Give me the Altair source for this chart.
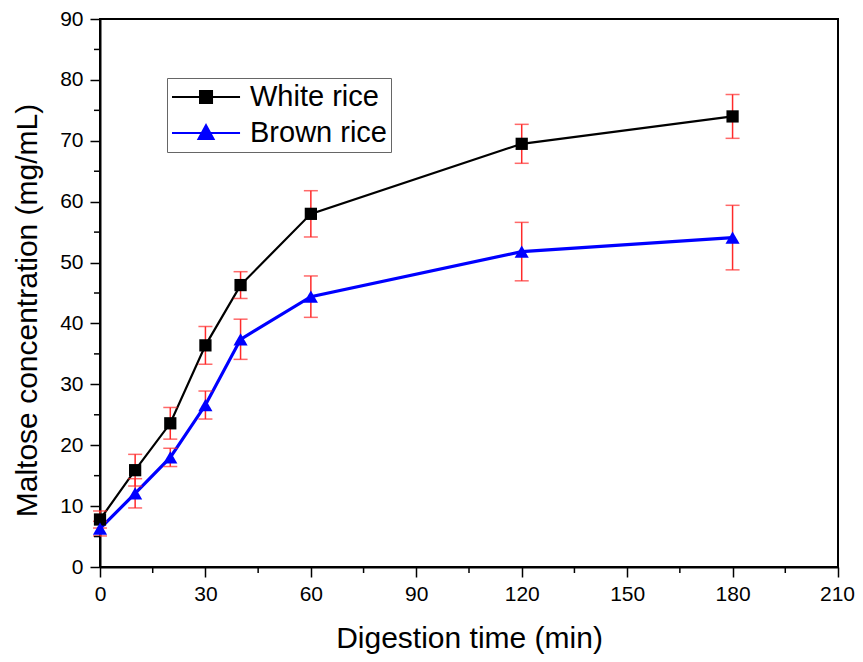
import altair as alt
import pandas as pd

times = [0, 10, 20, 30, 40, 60, 120, 180]
white = [7.8, 15.9, 23.6, 36.4, 46.3, 58.0, 69.5, 74.0]
white_err = [1.4, 2.6, 2.6, 3.1, 2.2, 3.8, 3.2, 3.6]
brown = [6.3, 12.1, 18.0, 26.6, 37.4, 44.4, 51.8, 54.1]
brown_err = [1.2, 2.4, 1.5, 2.3, 3.3, 3.4, 4.8, 5.3]
series = ["White rice", "Brown rice"]
series_colors = ["#000000", "#0000ff"]
x_major = [0, 30, 60, 90, 120, 150, 180, 210]
x_minor = [15, 45, 75, 105, 135, 165, 195]
y_major = [0, 10, 20, 30, 40, 50, 60, 70, 80, 90]
y_minor = [5, 15, 25, 35, 45, 55, 65, 75, 85]

rows = []
for t, v, e in zip(times, white, white_err):
    rows.append({"t": t, "v": v, "lo": v - e, "hi": v + e, "s": series[0], "s2": series[0]})
for t, v, e in zip(times, brown, brown_err):
    rows.append({"t": t, "v": v, "lo": v - e, "hi": v + e, "s": series[1], "s2": series[1]})
df = pd.DataFrame(rows)

W, H = 738, 548
FONT = "Liberation Sans"

xs = alt.Scale(domain=[0, 210], nice=False, zero=False)
ys = alt.Scale(domain=[0, 90], nice=False, zero=False)
cs = alt.Scale(domain=series, range=series_colors)

# legend glyphs: a line with the marker in its middle (unit box = 28px)
white_path = "M-1,0H3.86M1.0,-0.43H1.86V0.43H1.0Z"
brown_path = "M-1,0H3.86M1.43,-0.56L1.97,0.42H0.89Z"

color_expr = "datum.value === '%s' ? '%s' : '%s'" % (series[0], series_colors[0], series_colors[1])

base = alt.Chart(df)

lines = base.mark_line().encode(
    x=alt.X("t:Q", scale=xs, axis=alt.Axis(
        values=x_major, title="Digestion time (min)", tickSize=10, grid=False,
        labelPadding=6, titlePadding=19,
        labelOffset={"condition": {"test": "datum.value === 210", "value": -1}, "value": 0})),
    y=alt.Y("v:Q", scale=ys, axis=alt.Axis(
        values=y_major, title="Maltose concentration (mg/mL)", tickSize=10,
        grid=False, labelPadding=7, titlePadding=17, titleY=291)),
    color=alt.Color("s:N", scale=cs, legend=None),
    strokeWidth=alt.StrokeWidth("s:N", scale=alt.Scale(domain=series, range=[2.2, 3.2]), legend=None),
    detail="s:N",
)

err = base.mark_rule(color="#ff2a2a", strokeWidth=1.5).encode(
    x="t:Q", y="lo:Q", y2="hi:Q")
cap_hi = base.mark_tick(orient="horizontal", color="#ff2a2a", size=14, thickness=1.5).encode(
    x="t:Q", y="hi:Q")
cap_lo = base.mark_tick(orient="horizontal", color="#ff2a2a", size=14, thickness=1.5).encode(
    x="t:Q", y="lo:Q")

points = base.mark_point(filled=True, opacity=1).encode(
    x="t:Q", y="v:Q",
    color=alt.Color("s:N", scale=cs, legend=None),
    shape=alt.Shape("s2:N", scale=alt.Scale(domain=series, range=["square", "triangle-up"]),
                    legend=None),
    size=alt.Size("s2:N", scale=alt.Scale(domain=series, range=[150, 200]), legend=None),
)

leg = alt.Legend(
    title=None, orient="none", legendX=67, legendY=59,
    labelFont=FONT, labelFontSize=29, labelColor="#000",
    symbolSize=784, labelOffset=49, rowPadding=6,
    padding=4, strokeColor="#666", fillColor="white",
    symbolStrokeWidth=2, symbolOpacity=1,
    symbolFillColor={"expr": color_expr}, symbolStrokeColor={"expr": color_expr})

legend_layer = base.transform_filter("datum.t < 0").mark_point(
    filled=True, opacity=1, strokeWidth=2
).encode(
    x="t:Q", y="v:Q",
    color=alt.Color("s:N", scale=cs, legend=leg),
    stroke=alt.Stroke("s:N", scale=cs, legend=leg),
    shape=alt.Shape("s:N", scale=alt.Scale(domain=series, range=[white_path, brown_path]), legend=leg),
)

xminor_df = pd.DataFrame({"m": x_minor})
yminor_df = pd.DataFrame({"m": y_minor})
xminor = alt.Chart(xminor_df).mark_rule(color="#000", strokeWidth=1.5).encode(
    x=alt.X("m:Q", scale=xs), y=alt.value(H), y2=alt.value(H + 6))
yminor = alt.Chart(yminor_df).mark_rule(color="#000", strokeWidth=1.5).encode(
    y=alt.Y("m:Q", scale=ys), x=alt.value(-6), x2=alt.value(0))

chart = alt.layer(lines, err, cap_hi, cap_lo, points, legend_layer, xminor, yminor).resolve_scale(
    shape="independent", size="independent"
).properties(
    width=W, height=H,
    autosize=alt.AutoSizeParams(type="none"),
    padding={"left": 92, "top": 11, "right": 17, "bottom": 87},
    background="white",
).configure_view(
    stroke="#000", strokeWidth=2
).configure_axis(
    labelFont=FONT, titleFont=FONT, labelFontSize=21, titleFontSize=30,
    titleFontWeight="normal", labelColor="#000", titleColor="#000",
    domainColor="#000", domainWidth=2, tickColor="#000", tickWidth=1.5,
    labelFlush=False, labelOverlap=False,
)

chart.save("out.html", embed_options={"renderer": "svg", "actions": False})
